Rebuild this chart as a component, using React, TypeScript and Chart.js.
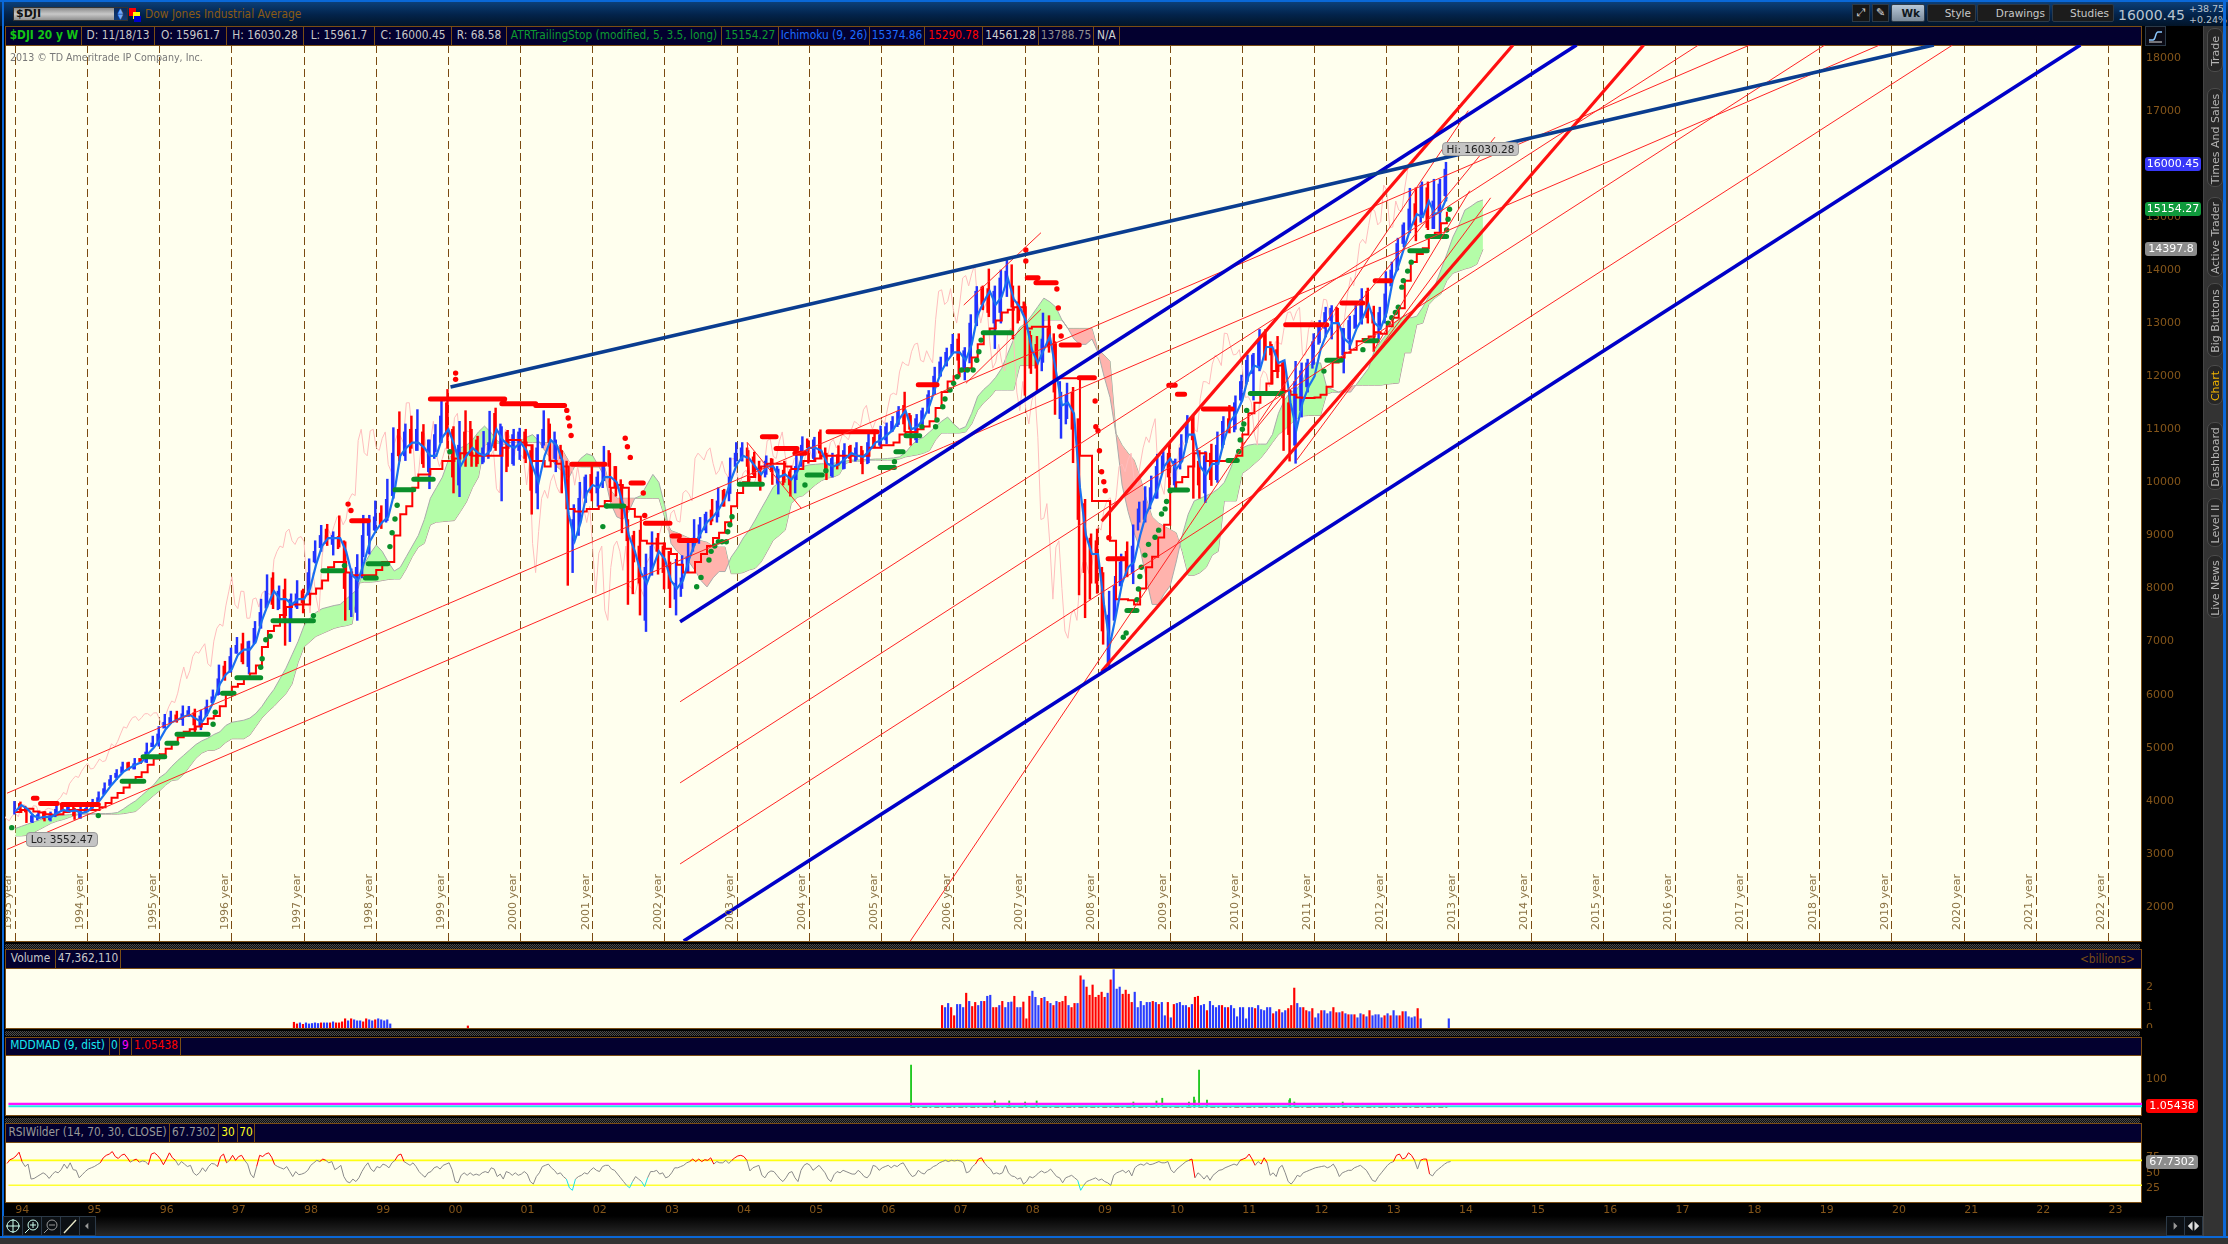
import React, { useEffect, useRef } from "react";
import { Chart, registerables } from "chart.js";
Chart.register(...registerables);

// ---------- price data, one entry per month from Jan 1994 to Nov 2013 ----------
const highs = [
3990,3980,3840,3750,3790,3800,3790,3930,3960,3940,3860,3890,
3950,4030,4170,4340,4480,4590,4730,4730,4800,4800,5090,5220,
5400,5630,5690,5690,5790,5780,5730,5710,5900,6090,6560,6630,
6880,7080,7160,7010,7380,7800,8260,8300,8050,8180,7900,8150,
7990,8560,8900,9190,9210,9070,9370,8880,8370,8640,9380,9380,
9650,9560,10060,11030,11330,11100,11250,11370,11090,10800,11090,11530,
11750,11050,11150,11350,11000,10870,10960,11340,11400,11050,10980,11000,
11020,11000,10700,10900,11350,11100,10800,10600,10050,9580,10000,10140,
10300,10200,10680,10550,10300,9950,9300,9080,9100,8650,9070,9040,
8860,8500,8550,8620,8900,9300,9340,9440,9680,9900,9870,10460,
10750,10750,10600,10570,10300,10500,10440,10250,10400,10240,10580,10860,
10790,10850,10990,10550,10550,10690,10730,10700,10750,10600,10930,10990,
11060,11120,11240,11430,11700,11260,11280,11400,11730,12170,12360,12530,
12790,12800,12540,13160,13690,13700,14020,13700,14000,14198,13700,13700,
13360,12770,12750,13190,13140,12650,11700,11870,11790,10920,9680,9030,
9120,8300,7950,8230,8650,8880,9200,9630,9920,10120,10530,10580,
10730,10440,10900,11260,11250,10600,10580,10720,10950,11240,11450,11630,
12020,12400,12430,12880,12880,12600,12750,12300,11700,12280,12250,12320,
12800,13050,13300,13330,13280,12900,13130,13330,13650,13660,13320,13300,
13970,14150,14600,14890,15540,15550,15660,15660,15710,15710,16030];
const lows = [
3750,3810,3590,3590,3670,3620,3620,3750,3830,3810,3650,3670,
3800,3860,4000,4150,4290,4400,4540,4580,4600,4700,4720,5020,
5030,5380,5460,5480,5420,5590,5300,5340,5600,5870,6000,6270,
6430,6780,6580,6390,6970,7250,7650,7620,7620,6930,7360,7620,
7540,7900,8480,8700,8810,8630,8780,7400,7470,7400,8600,8650,
9090,9130,9280,9700,10400,10410,10640,10600,10280,9880,10580,10750,
10640,9800,9730,10300,10300,10350,10380,10600,10600,9650,10300,10320,
10430,10370,9400,9500,10700,10400,10200,9800,8060,8900,9250,9620,
9650,9550,10030,9900,9740,9050,7700,8500,7500,7190,8250,8270,
7990,7640,7500,8000,8300,8810,8950,9050,9270,9350,9550,9790,
10400,10400,10000,10120,9850,10150,9960,9780,10000,9740,10050,10500,
10360,10420,10450,10050,10100,10320,10260,10370,10430,10160,10370,10650,
10660,10730,10960,11090,10950,10700,10750,11090,11300,11670,12000,12190,
12450,12040,11930,12340,12950,13250,13120,12520,13000,13500,12700,13050,
11640,12050,11730,12260,12450,11280,10830,11200,10370,7880,7450,8100,
7910,6950,6470,7500,8050,8220,8090,9250,9250,9640,9700,10270,
9900,9830,10400,10860,9700,9700,9620,9940,10000,10710,10930,11000,
11530,11900,11550,12100,12300,11850,11970,10600,10400,10360,11230,11700,
12220,12630,12740,12700,12320,12060,12500,12920,12980,13000,12470,12880,
13110,13780,14000,14440,14700,14550,15030,14760,14780,14720,15300];
const closes = [
3978,3832,3636,3682,3758,3625,3765,3913,3843,3908,3739,3834,
3844,4011,4158,4321,4465,4556,4709,4611,4789,4756,5075,5117,
5395,5486,5588,5569,5643,5655,5529,5616,5882,6029,6522,6448,
6813,6878,6583,7009,7331,7673,8222,7622,7945,7442,7823,7908,
7907,8546,8800,9063,8900,8952,8883,7539,7843,8592,9117,9181,
9359,9307,9786,10789,10560,10971,10655,10829,10337,10730,10878,11497,
10941,10128,10922,10734,10522,10448,10522,11215,10651,10971,10414,10787,
10887,10495,9879,10735,10912,10502,10523,9950,8848,9075,9852,10022,
9920,10106,10404,9946,9925,9243,8737,8664,7592,8397,8896,8342,
8054,7891,7992,8480,8850,8985,9234,9416,9275,9801,9782,10454,
10488,10584,10358,10226,10188,10435,10140,10174,10080,10027,10428,10783,
10490,10766,10504,10193,10467,10275,10641,10482,10569,10440,10806,10718,
10865,10993,11109,11367,11168,11150,11186,11381,11679,12080,12222,12463,
12622,12269,12354,13063,13628,13409,13212,13358,13896,13930,13372,13265,
12650,12266,12263,12820,12638,11350,11378,11544,10851,9325,8829,8776,
8001,7063,7609,8168,8500,8447,9172,9496,9712,9713,10345,10428,
10067,10325,10857,11009,10137,9774,10466,10015,10788,11118,11006,11578,
11892,12226,12320,12811,12570,12414,12143,11614,10913,11955,12046,12218,
12633,12952,13212,13214,12393,12880,13009,13091,13437,13096,13026,13104,
13861,14054,14579,14840,15116,14910,15500,14810,15130,15546,16000];
// a second bar between each pair of months
const midHighs = [
3950,3900,3720,3740,3790,3720,3840,3930,3900,3900,3810,3860,
3920,4060,4230,4400,4520,4640,4720,4700,4800,4920,5090,5260,
5480,5570,5620,5640,5700,5660,5600,5770,5960,6300,6540,6720,
6930,6960,7000,7250,7550,7950,8200,7950,7980,7800,7900,7960,
8300,8700,9000,9120,9000,8980,8900,8300,8400,9000,9250,9350,
9420,9680,10550,11000,10950,11000,11000,10950,10800,10900,11250,11500,
11000,10700,10950,11150,10800,10650,10750,11300,11100,10950,10900,10950,
10950,10600,10650,11000,11200,10950,10700,10400,9300,9700,10100,10150,
10100,10350,10600,10300,10050,9550,9000,8800,8400,8800,8950,8800,
8700,8100,8200,8600,8950,9200,9400,9480,9650,9850,10100,10550,
10650,10650,10480,10400,10400,10450,10300,10230,10200,10300,10700,10820,
10800,10950,10650,10450,10520,10600,10680,10650,10680,10750,10850,10900,
11050,11150,11330,11450,11300,11200,11350,11650,12000,12270,12450,12600,
12700,12480,13000,13600,13680,13650,13600,13850,13980,14100,13400,13400,
12850,12600,12700,12900,12800,11900,11650,11700,11200,9600,8950,8900,
8400,7500,8050,8500,8700,8800,9500,9650,9900,10300,10500,10550,
10400,10650,11050,11200,10400,10500,10550,10700,11150,11200,11500,11900,
12300,12400,12700,12800,12650,12500,12250,11500,11900,12100,12250,12650,
12980,13200,13280,13300,12900,13050,13150,13450,13600,13200,13200,13550,
14000,14500,14850,15150,15250,15600,15550,15300,15620,15900];
const midLows = [
3830,3790,3600,3640,3660,3640,3700,3820,3800,3720,3680,3780,
3820,3980,4120,4290,4440,4530,4600,4600,4740,4730,5020,5090,
5370,5460,5510,5530,5600,5430,5400,5590,5850,5990,6300,6420,
6780,6620,6530,6950,7290,7630,7700,7600,7440,7000,7650,7730,
7880,8500,8770,8850,8830,8750,8000,7600,7550,8200,9000,9100,
9200,9250,9750,10500,10500,10550,10600,10350,10200,10450,10750,10950,
10100,9950,10450,10500,10300,10350,10450,10650,10500,10200,10350,10600,
10450,9850,9800,10650,10750,10450,10450,9500,8300,9000,9700,9800,
9800,9900,10300,9900,9500,8900,7900,8100,7400,8300,8700,8300,
8000,7800,7850,8300,8700,8850,9100,9200,9250,9550,9650,10300,
10420,10300,10150,10020,10100,10200,9980,9950,9950,9800,10300,10650,
10450,10550,10200,10120,10250,10250,10450,10400,10350,10350,10650,10700,
10800,10950,11050,11100,11000,10800,11100,11350,11650,12000,12200,12400,
12300,12100,12250,13000,13350,13200,13000,13200,13700,13300,13000,13200,
12150,12150,12100,12550,11700,11200,11100,11000,9300,8300,7800,8100,
7200,6600,7400,8050,8280,8300,9100,9300,9500,9700,10200,10100,
9950,10250,10750,10800,9950,9800,10050,10050,10650,10950,10950,11550,
11850,12050,12200,12400,12400,12100,11600,10900,10700,11350,11800,12150,
12600,12900,13050,13000,12400,12700,12900,13050,13100,13000,12700,13000,
13700,13980,14500,14750,14850,14900,14800,14780,15100,15400];
const tenkan = [
3800,3920,3850,3720,3680,3700,3700,3770,3830,3800,3820,3770,
3800,3900,4000,4150,4300,4430,4550,4620,4680,4730,4880,5000,
5150,5350,5480,5530,5590,5620,5550,5480,5650,5880,6200,6380,
6480,6750,6850,6850,7000,7400,7700,7950,7800,7800,7700,7800,
7800,8000,8450,8800,8950,8950,8950,8700,8250,8150,8500,8900,
9100,9250,9350,9800,10500,10650,10750,10750,10650,10500,10500,10850,
11000,10700,10300,10500,10650,10550,10500,10600,11000,10800,10700,10650,
10750,10600,10300,10000,10500,10800,10700,10400,9400,8900,9250,9800,
9950,9900,10100,10100,10000,9600,9000,8700,8300,8100,8400,8700,
8550,8150,8000,8150,8550,8850,9050,9250,9350,9500,9700,10050,
10350,10500,10450,10300,10150,10300,10300,10100,10150,10050,10200,10550,
10650,10650,10600,10350,10300,10350,10450,10550,10500,10480,10600,10750,
10800,10900,11000,11200,11350,11000,11050,11200,11450,11800,12100,12300,
12450,12450,12300,12600,13150,13400,13600,13350,13500,13850,13450,13300,
13050,12500,12250,12500,12750,12100,11450,11500,11300,9900,9000,8650,
8650,7700,6950,7500,8100,8400,8500,9000,9400,9650,9900,10300,
10450,10250,10400,10900,10900,10300,10150,10350,10350,10800,11150,11300,
11550,12000,12200,12150,12550,12550,12250,12300,11500,11000,11500,11800,
12000,12500,12800,13000,13000,12700,12600,12900,13100,13350,13000,12900,
13200,13800,14100,14450,14800,15050,15000,15300,15050,15100,15375];
const kijun = [
3790,3830,3850,3800,3780,3750,3740,3750,3790,3830,3830,3830,
3830,3830,3880,3960,4060,4150,4250,4350,4450,4540,4680,4800,
4880,4980,5100,5200,5300,5350,5400,5450,5550,5600,5780,6000,
6150,6200,6300,6400,6550,6900,7200,7300,7500,7650,7700,7700,
7700,7900,8000,8150,8400,8500,8500,8300,8250,8250,8250,8250,
8350,8500,8500,9000,9400,9550,9900,10150,10150,10250,10250,10400,
10400,10450,10550,10550,10500,10500,10500,10500,10500,10650,10800,10800,
10750,10700,10400,10400,10300,10400,10350,10300,9500,9450,9450,9500,
9500,9550,9650,9900,9950,9900,9500,9350,8900,8850,8850,8850,
8750,8650,8450,8300,8300,8500,8650,8800,8950,9050,9250,9550,
9800,10000,10100,10250,10300,10350,10350,10350,10300,10250,10250,10400,
10400,10450,10500,10500,10500,10500,10500,10500,10500,10500,10650,10650,
10700,10700,10750,10900,10950,10950,11000,11050,11150,11400,11700,11900,
12000,12100,12150,12350,12600,12800,12900,13050,13200,13250,13300,13300,
12900,12930,12930,12930,12600,11960,11960,11960,11960,10500,10500,9650,
9650,9650,8900,7800,7800,7780,7700,8000,8400,8600,8960,9200,
9860,10000,10100,10300,10550,10550,10400,10400,10400,10400,10400,10500,
10900,11300,11500,11700,11860,12100,12200,11720,11650,11600,11590,11590,
11600,11650,11800,12260,12350,12440,12500,12660,12700,12750,12830,12800,
12940,13100,13280,13800,14150,14300,14410,14650,14700,14880,15100];
const spanA = [
3480,3520,3560,3600,3640,3680,3700,3720,3730,3740,3750,3755,
3760,3760,3760,3760,3765,3780,3850,3930,4000,4100,4200,4300,
4440,4520,4650,4760,4860,4960,5060,5130,5180,5250,5300,5420,
5480,5500,5520,5560,5650,5780,5950,6100,6300,6500,6750,7000,
7300,7450,7550,7620,7650,7680,7700,7800,7900,8000,8450,8660,
8820,8700,8500,8330,8400,8600,8800,9000,9300,9700,9900,10100,
10420,10600,10650,10700,10800,10950,11060,10950,10800,10700,10750,10750,
10780,10850,10900,10780,10600,10450,10300,10200,10080,10300,10450,10540,
10500,10300,10100,9600,9350,9300,9450,9700,9750,9950,10150,10000,
9550,8850,8700,8600,8500,8340,8150,8030,8200,8320,8320,8590,
8750,8950,9100,9290,9500,9700,9910,10000,10050,10100,10200,10300,
10330,10340,10350,10350,10360,10380,10400,10420,10420,10430,10430,10440,
10440,10450,10460,10480,10560,10700,10800,10850,10950,11050,11150,11230,
11100,11000,11050,11300,11620,11750,11850,11980,12150,12430,12700,12920,
13000,13150,13310,13470,13400,13300,13060,12900,12700,12600,12600,12700,
12450,12000,11600,10900,9950,9450,9050,8750,8200,7700,7700,7900,
8050,8500,9000,9400,9650,9700,9750,9800,9880,10000,10250,10550,
10650,10700,10720,10720,10720,10900,11300,11550,11700,11750,11900,12200,
12250,12250,11800,11750,11700,11700,11700,11850,12000,12150,12500,12650,
12800,12950,13080,13150,13100,13130,13300,13500,13700,14000,14300,14620,
14850,15130,15200,15280,15320];
const spanB = [
3340,3340,3350,3400,3460,3520,3580,3620,3650,3690,3730,3750,
3750,3750,3750,3750,3750,3750,3760,3780,3800,3900,4000,4100,
4190,4300,4380,4400,4500,4650,4800,4900,4950,4950,5000,5100,
5170,5170,5170,5240,5400,5560,5680,5780,5900,6020,6200,6600,
6900,7000,7100,7150,7200,7250,7280,7300,7330,8100,8120,8120,
8130,8150,8170,8180,8180,8370,8600,8780,8850,9200,9250,9260,
9270,9280,9450,9630,9900,10100,10700,10740,10740,10740,10750,10750,
10750,10750,10750,10750,10750,10750,10700,10600,10400,10300,10290,10290,
10290,10290,10280,9850,9700,9700,9700,9700,9700,9700,9700,9700,
9330,9090,9050,9000,8950,8917,8900,8870,8800,8780,8780,8280,
8280,8300,8350,8380,8500,8700,8910,9000,9100,9600,9720,9750,
9850,9950,10030,10080,10100,10150,10350,10400,10400,10400,10420,10420,
10420,10420,10420,10440,10480,10500,10520,10550,10600,10800,10930,10930,
10930,10930,10950,11100,11360,11500,11600,11740,11740,11740,11740,12200,
12200,12200,12200,13060,13060,13060,13060,12900,12900,12900,12900,12900,
12500,12400,12280,10920,10700,10550,10420,10100,9700,9350,9240,9170,
9110,9050,8700,8250,8250,8300,8400,8630,8700,9650,9650,9650,
10170,10250,10350,10450,10590,10750,10900,10990,11100,11200,11250,11260,
11260,11260,11660,11700,11700,11750,11800,11830,11830,11830,11830,11830,
11850,11860,11870,12440,12440,12970,13000,13350,13470,13550,13800,13940,
13980,14020,14050,14110,14390];

// ATR trailing stop: [from year, to year, level] and isolated [year, level]
const redStopRuns = [
[1994.25,1994.3,4047],[1994.35,1994.58,3950],[1994.65,1995.15,3930],[1998.66,1998.89,9277],
[1999.75,2000.78,11570],[2000.74,2001.21,11480],[2001.21,2001.61,11450],[2001.71,2002.17,10340],
[2002.53,2002.7,9990],[2002.73,2003.07,9231],[2003.1,2003.2,8990],[2003.2,2003.43,8907],
[2004.35,2004.54,10860],[2004.54,2004.83,10640],[2004.8,2004.94,10546],[2005.26,2005.94,10954],
[2006.51,2006.77,11840],[2008.02,2008.17,13856],[2008.14,2008.42,13760],[2008.49,2008.74,12587],
[2008.74,2008.95,11970],[2009.14,2009.36,8561],[2009.98,2010.07,11827],[2010.1,2010.2,11658],
[2010.46,2010.86,11381],[2011.6,2012.17,12970],[2012.38,2012.67,13381],[2012.84,2013.05,13798]];
const redStopDots = [
[1998.61,9590],[1998.65,9470],[2000.1,12058],[2000.1,11940],[2001.64,11356],[2001.66,11213],[2001.68,11064],[2001.7,10882],
[2002.45,10830],[2002.48,10670],[2002.52,10470],[2002.7,9800],[2002.72,9375],[2008,14377],[2008,14170],
[2008.43,13642],[2008.45,13284],[2008.47,12932],[2008.49,12757],[2008.96,11532],[2008.97,11048],[2009,10973],
[2009.02,10596],[2009.05,10200],[2009.08,10012],[2009.1,9843],[2009.15,8957]];
const greenStopRuns = [
[1995.48,1995.78,4370],[1995.77,1996.07,4830],[1996.1,1996.24,5086],[1996.24,1996.67,5255],
[1996.87,1997.03,6028],[1997.07,1997.4,6321],[1997.57,1998.13,7393],[1998.26,1998.53,8335],
[1998.85,1999.0,8200],[1998.89,1999.16,8465],[1999.26,1999.52,9862],[1999.52,1999.79,10057],
[2002.2,2002.43,9556],[2004.03,2004.35,9962],[2004.97,2005.18,10138],[2005.98,2006.18,10280],
[2006.2,2006.3,10578],[2006.34,2006.53,10879],[2007.41,2007.8,12820],[2009.4,2009.54,7587],
[2010,2010.24,9855],[2010.8,2010.93,10414],[2011.11,2011.56,11672],[2012.17,2012.37,12298],
[2012.7,2012.87,12668],[2013.32,2013.56,14364],[2013.56,2013.83,14633]];
const greenStopDots = [
[1993.95,3495],[1995.15,3722],[1996.74,5444],[1996.77,5670],[1997.4,6516],[1997.42,6678],[1997.47,7036],[1997.53,7100],
[1998.13,7490],[1998.56,8432],[1999.19,8790],[1999.22,9050],[1999.26,9310],[1999.29,9570],[2000.02,10576],
[2002.14,9167],[2002.19,9556],[2003.44,8034],[2003.5,8210],[2003.61,8536],[2003.64,8700],[2003.69,8800],[2003.74,8882],
[2003.79,8882],[2003.85,8882],[2003.87,9070],[2003.9,9200],[2003.93,9353],[2004.94,9950],[2005.23,10219],
[2006.18,10390],[2006.56,11050],[2006.75,11048],[2006.77,11174],[2006.85,11425],[2006.88,11570],[2006.95,11739],[2007,11865],
[2007.05,11990],[2007.11,12116],[2007.19,12116],[2007.27,12116],[2007.32,12300],[2007.35,12460],[2007.38,12680],
[2009.35,7083],[2009.39,7163],[2009.54,7790],[2009.56,7991],[2009.58,8227],[2009.6,8400],[2009.65,8630],[2009.7,8832],
[2009.79,8967],[2009.84,9100],[2009.88,9404],[2009.93,9500],[2009.95,9640],[2010,9841],[2010.95,10580],[2010.97,10800],
[2011,11000],[2011.02,11100],[2011.06,11356],[2012.13,12096],[2012.67,12500],[2013.02,13000],[2013.07,13100],[2013.12,13200],
[2013.16,13300],[2013.21,13677],[2013.23,13800],[2013.29,13980],[2013.34,14148],[2013.83,14754],[2013.85,14956],[2013.87,15144]];

// hand-drawn trend lines: [from year, from level, to year, to level]
const navyLines = [[2000.03,11796,2020.58,18239]];
const blueLines = [[2003.21,7373,2015.63,18239],[2003.26,1360,2022.61,18239]];
const redThickLines = [[2009.05,9270,2014.75,18239],[2009.05,6443,2016.56,18239]];
const redThinLines = [
[1993.885,4144,2018.03,18239],[1993.885,3085,2019.83,18239],
[2003.21,5867,2017.32,18239],[2003.21,4339,2019.07,18239],[2003.21,2812,2020.84,18239],
[2004.14,10753,2004.89,9510],[2004.14,10753,2004.18,10043],
[2007.14,13340,2008.21,14703],[2007.17,11865,2008.21,13259],
[2006.4,1360,2014.13,17003],[2010.97,10649,2014.5,16503],[2011.75,10414,2014.44,15360],[2012.81,12466,2014.15,15494]];

// volume, billions, one bar every two weeks; r = down, b = up
const volumeEarly = [0.28,0.2,0.25,0.18,0.25,0.2,0.22,0.25,0.22,0.25,0.25,0.25,0.25,0.3,0.25,0.25,0.3,0.45,0.35,0.45,0.4,0.35,0.35,0.3,0.45,0.4,0.35,0.4,0.45,0.4,0.35,0.4,0.2];
const volumeEarlySide = "rrbrbbbbbrbbrbrrrrbrbbbrrbbrbbbbb";
const volumeLate = [
1.1,1.0,1.2,1.0,0.6,1.15,1.15,1.0,1.7,1.3,1.05,
1.25,1.1,1.3,1.3,1.55,1.6,1.0,1.0,1.1,1.3,1.0,1.25,
1.27,1.55,1.0,1.0,1.27,0.45,1.55,1.8,1.5,1.1,1.45,1.5,1.3,
1.2,1.1,1.3,1.25,1.3,1.55,1.1,1.0,1.2,1.2,2.55,
2.35,2.0,1.6,2.1,1.5,1.6,1.75,1.5,1.7,2.35,2.85,
1.9,2.0,1.65,1.85,1.65,1.25,1.75,1.0,1.3,1.1,1.25,1.25,
1.3,1.25,1.15,1.25,0.6,1.25,0.5,1.15,1.2,1.25,1.1,1.1,
1.0,1.15,1.5,1.55,1.1,1.15,0.85,1.3,1.1,1.0,1.1,1.1,
1.0,1.0,1.1,0.95,0.55,1.0,1.0,0.45,1.0,1.0,0.95,1.1,
0.9,0.85,1.0,1.0,0.7,0.8,0.9,0.75,0.85,0.95,1.1,1.95,
1.2,1.0,1.0,0.85,0.8,0.95,0.5,0.7,0.85,0.85,0.7,0.8,
1.0,0.75,0.75,0.8,0.7,0.65,0.65,0.65,0.5,0.7,0.65,0.55,
0.85,0.6,0.65,0.65,0.5,0.6,0.7,0.6,0.85,0.6,0.6,0.8,
0.8,0.55,0.5,0.55,0.95,0.45];
const volumeLateSide =
"rbbrrbbbrbr"+"rbbrbbrrbrbb"+"brbbrrrbbbrbr"+"brbrrrbrrbr"+"brrrrrrrbrb"+"bbrrrrbbbbbb"+
"rbrbbrbrbbbb"+"rbrrbbrbbbbr"+"brbbbbbbbbrb"+"bbbbrbrbbrrr"+"bbrrbrbbrbbb"+"rrbrbrbrbbrb"+"rbbbbrbrbbrr"+"bbbbrb";
const volumeLast = [[2013.86,0.45],[2000.27,0.1]];

// MDDMAD spikes [year, value]
const mddSpikes = [[2006.41,153],[2007.57,20],[2007.77,20],[2007.99,16],[2008.15,20],[2009.49,16],[2009.81,20],[2009.89,30],[2010.26,16],[2010.33,34],[2010.34,23],[2010.4,134],[2010.51,23],[2011.65,23],[2011.66,29],[2011.72,16],[2012.39,16]];

// RSI, two readings a month
const rsiValues = [
65,71,73,77,83,68,60,64,40,41,44,47, 50,47,41,47,52,50,55,64,57,66,55,54,
42,47,52,56,58,60,63,66,74,78,80,84, 76,73,78,80,74,67,70,72,67,69,68,63,
80,82,78,72,63,72,82,74,70,62,68,64, 60,62,50,46,50,58,52,60,65,64,60,76,
80,66,70,78,70,76,78,70,64,48,42,60, 78,76,80,82,75,63,60,58,56,60,52,44,
52,47,48,50,54,62,66,70,68,72,70,66, 68,55,58,62,44,36,34,40,36,42,52,60,
66,56,52,60,58,64,62,58,66,70,78,80, 68,65,62,66,60,52,47,43,50,52,58,60,
56,62,64,66,55,36,34,46,50,46,50,46, 48,46,50,52,50,58,56,44,48,40,52,50,
46,50,46,48,52,48,36,32,44,50,60,62, 64,58,54,48,50,44,40,26,22,40,44,46,
50,48,54,58,54,52,60,62,62,56,54,48, 42,36,30,26,36,44,40,36,28,42,52,52,
54,48,50,42,44,50,58,58,60,62,66,68, 72,68,72,68,71,70,74,64,68,66,66,70,
65,70,74,77,78,76,70,53,58,60,62,46, 42,50,53,52,46,40,36,42,50,52,42,36,
54,62,65,62,54,58,62,56,50,40,36,47, 52,50,54,52,50,48,48,54,50,44,42,48,
62,60,54,58,60,62,58,62,60,64,66,58, 50,44,46,54,50,48,54,56,60,62,66,68,
70,68,70,69,70,69,66,50,52,60,64,72, 74,66,60,56,48,50,48,50,62,50,45,44,
40,42,32,36,44,42,45,50,53,50,52,56, 50,44,42,34,42,44,46,42,38,22,30,36,
38,40,42,38,40,36,34,30,46,50,52,54, 50,54,45,58,62,64,62,66,63,64,66,68,
66,66,68,55,50,56,60,64,68,70,72,42, 50,46,40,46,38,46,50,54,55,58,60,62,
64,62,70,72,74,80,72,62,68,64,74,66, 46,50,44,58,62,50,36,32,38,46,44,50,
52,54,56,58,59,60,61,58,60,64,56,44, 50,52,54,54,58,60,62,58,54,46,38,36,
44,50,56,62,66,68,78,80,72,74,82,78, 70,56,70,72,72,48,45,52,56,60,64,67,68];

const gridYears = [1994,1995,1996,1997,1998,1999,2000,2001,2002,2003,2004,2005,2006,2007,2008,2009,2010,2011,2012,2013,2014,2015,2016,2017,2018,2019,2020,2021,2022,2023];
const priceTicks = [2000,3000,4000,5000,6000,7000,8000,9000,10000,11000,12000,13000,14000,15000,16000,17000,18000];
const volumeTicks = [0,1,2];
const mddTicks = [100];
const rsiTicks = [25,50,75];

// ---------- layout and theme ----------
const X_MIN = 1993.857, X_MAX = 2023.464;
const BROWN = "#7a4d14";
const AXIS_BROWN = "#85561a";
const IVORY = "#FFFFEE";
const NAVY_STRIP = "#03002F";
const UI_FONT = '"DejaVu Sans Condensed","DejaVu Sans",sans-serif';
const yearOfMonth = (i: number) => 1994 + i / 12;
const series = (vals: number[], shift = 0) => vals.map((y, i) => ({ x: yearOfMonth(i + shift), y }));
const runsToPoints = (runs: number[][]) => runs.flatMap(([a, b, v]) => [{ x: a, y: v }, { x: b, y: v }, { x: b, y: null as any }]);
const noPadding = (s: any) => { s.paddingTop = 0; s.paddingBottom = 0; s.paddingLeft = 0; s.paddingRight = 0; };

const baseX = (extra: any = {}) => ({
  type: "linear", min: X_MIN, max: X_MAX, offset: false,
  grid: { display: false, offset: false, drawTicks: false },
  border: { display: false },
  ticks: { display: false },
  afterFit: (s: any) => { s.height = 0; noPadding(s); },
  ...extra,
});
const baseY = (min: number, max: number, ticks: number[]) => ({
  type: "linear", position: "right", min, max,
  grid: { display: false, drawTicks: false },
  border: { display: false },
  afterBuildTicks: (s: any) => { s.ticks = ticks.map((value) => ({ value })); },
  afterFit: (s: any) => { s.width = 60; noPadding(s); },
  ticks: { color: AXIS_BROWN, padding: 4, font: { family: "DejaVu Sans", size: 11 }, autoSkip: false, callback: (v: any) => String(v) },
});
const baseOptions = (scales: any) => ({
  responsive: false, animation: false as const, devicePixelRatio: 1,
  layout: { padding: 0, autoPadding: false },
  events: [] as any[],
  plugins: { legend: { display: false }, tooltip: { enabled: false } },
  elements: { point: { radius: 0 }, line: { tension: 0 } },
  scales,
});
const lineSet = (t: number[], color: string, width: number, order: number) => ({
  type: "line", data: [{ x: t[0], y: t[1] }, { x: t[2], y: t[3] }],
  borderColor: color, borderWidth: width, pointRadius: 0, order, fill: false,
});

const yearLabelPlugin = {
  id: "yearLabels",
  afterDraw(chart: any) {
    const { ctx, scales, chartArea } = chart;
    ctx.save();
    ctx.fillStyle = "#8b7344";
    ctx.font = "11px 'DejaVu Sans'";
    ctx.textBaseline = "middle";
    ctx.textAlign = "left";
    for (const y of gridYears) {
      const px = scales.x.getPixelForValue(y) - 7;
      ctx.save();
      ctx.translate(px, chartArea.bottom - 11);
      ctx.rotate(-Math.PI / 2);
      ctx.fillText(`${y - 1} year`, 0, 0);
      ctx.restore();
    }
    ctx.restore();
  },
};

// ---------- small DOM pieces ----------
const abs = (l: number, t: number, w: number, h: number, extra: any = {}) => ({ position: "absolute" as const, left: l, top: t, width: w, height: h, boxSizing: "border-box" as const, ...extra });

const Strip = ({ top, height, cells, right }: any) => (
  <div style={abs(5, top, 2137, height, { background: NAVY_STRIP, border: `1px solid ${BROWN}`, font: `11.8px ${UI_FONT}` })}>
    {cells.map((c: any, i: number) => (
      <div key={i} style={abs(c[0] - 5, -1, c[1], height, { color: c[3], fontWeight: c[4] ? 700 : 400, lineHeight: `${height - 2}px`, whiteSpace: "nowrap", overflow: "hidden", textAlign: c[5] || "center", borderRight: `1px solid ${BROWN}` })}>{c[2]}</div>
    ))}
    {right && <div style={{ position: "absolute", right: 6, top: 0, lineHeight: `${height - 2}px`, color: BROWN }}>{right}</div>}
  </div>
);
const Separator = ({ top }: any) => (
  <div style={abs(5, top, 2135, 5, { background: "repeating-conic-gradient(#4a4a4a 0 25%, #0c0c0c 0 50%) 0 0/2px 2px" })} />
);
const PlotBox = ({ top, height }: any) => (
  <div style={abs(5, top, 2137, height, { background: IVORY, border: `1px solid ${BROWN}` })} />
);
const Tag = ({ left, top, width, bg, color = "#fff", children }: any) => (
  <div style={abs(left, top, width, 14, { background: bg, color, borderRadius: 3, font: "11px 'DejaVu Sans'", lineHeight: "14px", textAlign: "center", whiteSpace: "nowrap" })}>{children}</div>
);
const TopButton = ({ left, width, label, bg = "#1c1c1c", color = "#c8c8c8", bold = false }: any) => (
  <div style={abs(left, 4, width, 18, { background: bg, border: "1px solid #2d3a48", color, font: `${bold ? 700 : 400} 10.5px 'DejaVu Sans'`, lineHeight: "16px", textAlign: "right", paddingRight: 4, whiteSpace: "nowrap", borderRadius: 2 })}>{label}</div>
);
const SideTab = ({ top, height, label, color = "#b4b4b4" }: any) => (
  <div style={abs(2207, top, 16, height, { background: "#262626", border: "1px solid #4c4c4c", borderRadius: 7 })}>
    <div style={{ position: "absolute", left: 7, top: height / 2, transform: "translate(-50%,-50%) rotate(-90deg)", whiteSpace: "nowrap", color, font: "11px 'DejaVu Sans'" }}>{label}</div>
  </div>
);
const IconBox = ({ left, width = 18, glyph }: any) => (
  <svg style={abs(left, 1217, width, 18, { background: "#0c1014", outline: "1px solid #2c3a48" })} viewBox="0 0 18 18">{glyph}</svg>
);

const mainCells = [
  [6, 75, "$DJI 20 y W", "#14c414", true], [81, 73, "D: 11/18/13", "#c8c8c8"], [154, 72, "O: 15961.7", "#c8c8c8"],
  [226, 77, "H: 16030.28", "#c8c8c8"], [303, 71, "L: 15961.7", "#c8c8c8"], [374, 77, "C: 16000.45", "#c8c8c8"],
  [451, 55, "R: 68.58", "#c8c8c8"], [506, 215, "ATRTrailingStop (modified, 5, 3.5, long)", "#0e9a30"], [721, 57, "15154.27", "#0e9a30"],
  [778, 91, "Ichimoku (9, 26)", "#1c6cff"], [869, 55, "15374.86", "#1c6cff"], [924, 58, "15290.78", "#ff0000"],
  [982, 56, "14561.28", "#d0d0d0"], [1038, 55, "13788.75", "#909090"], [1093, 26, "N/A", "#d0d0d0"],
];
const volumeCells = [[5, 50, "Volume", "#c8c8c8"], [55, 65, "47,362,110", "#c8c8c8"]];
const mddCells = [[5, 104, "MDDMAD (9, dist)", "#18e8f0"], [109, 10, "0", "#18e8f0"], [119, 12, "9", "#ff00ff"], [131, 49, "1.05438", "#ff0000"]];
const rsiCells = [[5, 164, "RSIWilder (14, 70, 30, CLOSE)", "#999999"], [169, 49, "67.7302", "#999999"], [218, 19, "30", "#ffff20"], [237, 17, "70", "#ffff20"]];

export default function App() {
  const mainRef = useRef<HTMLCanvasElement>(null);
  const volRef = useRef<HTMLCanvasElement>(null);
  const mddRef = useRef<HTMLCanvasElement>(null);
  const rsiRef = useRef<HTMLCanvasElement>(null);

  useEffect(() => {
    const charts: Chart[] = [];
    const barColor = (i: number) => (i === 0 || closes[i] >= closes[i - 1] ? "#2233ff" : "#ff0000");
    const midColor = (i: number) => (closes[i + 1] >= closes[i] ? "#2233ff" : "#ff0000");

    const mainDatasets: any[] = [
      { type: "line", data: series(spanB, 0), borderColor: "#999", borderWidth: 1, pointRadius: 0, order: 90, fill: false },
      { type: "line", data: series(spanA, 0), borderColor: "#aaa", borderWidth: 1, pointRadius: 0, order: 89, fill: { target: 0, above: "#B4FDA8", below: "#FFB3AD" } },
      {
        type: "line",
        data: closes.flatMap((c, i) => [
          { x: yearOfMonth(i - 6), y: c },
          ...(i < midHighs.length ? [{ x: yearOfMonth(i - 5.5), y: i % 2 ? midHighs[i] : midLows[i] }] : []),
        ]),
        borderColor: "#FFBDBD", borderWidth: 1, pointRadius: 0, order: 80, fill: false,
      },
      { type: "bar", data: closes.map((_, i) => ({ x: yearOfMonth(i), y: [lows[i], highs[i]] })), backgroundColor: closes.map((_, i) => barColor(i)), barThickness: 1.8, order: 70 },
      { type: "bar", data: midHighs.map((h, i) => ({ x: yearOfMonth(i + 0.5), y: [midLows[i], h] })), backgroundColor: midHighs.map((_, i) => midColor(i)), barThickness: 1.8, order: 70 },
      { type: "line", data: series(kijun), borderColor: "#ff0000", borderWidth: 2, stepped: true, pointRadius: 0, order: 60, fill: false },
      { type: "line", data: series(tenkan), borderColor: "#1a70f0", borderWidth: 2.2, pointRadius: 0, order: 59, fill: false },
      { type: "line", data: runsToPoints(redStopRuns), borderColor: "#ff0000", borderWidth: 5, borderCapStyle: "round", pointRadius: 0, order: 50, fill: false, spanGaps: false },
      { type: "line", data: redStopDots.map(([x, y]) => ({ x, y })), showLine: false, pointRadius: 2.7, pointBackgroundColor: "#ff0000", pointBorderWidth: 0, order: 50 },
      { type: "line", data: runsToPoints(greenStopRuns), borderColor: "#0a8f2a", borderWidth: 5, borderCapStyle: "round", pointRadius: 0, order: 50, fill: false, spanGaps: false },
      { type: "line", data: greenStopDots.map(([x, y]) => ({ x, y })), showLine: false, pointRadius: 2.7, pointBackgroundColor: "#0a8f2a", pointBorderWidth: 0, order: 50 },
      ...redThinLines.map((t) => lineSet(t, "#ff2424", 1, 20)),
      ...redThickLines.map((t) => lineSet(t, "#ff1010", 3.2, 12)),
      ...blueLines.map((t) => lineSet(t, "#0000c8", 3.6, 11)),
      ...navyLines.map((t) => lineSet(t, "#0a3d90", 3.6, 10)),
    ];
    charts.push(new Chart(mainRef.current!, {
      type: "line",
      data: { datasets: mainDatasets },
      options: baseOptions({
        x: baseX({
          grid: { display: true, offset: false, drawTicks: false, color: "#7a4a10", lineWidth: 1 },
          border: { display: false, dash: [8, 4] },
          afterBuildTicks: (s: any) => { s.ticks = gridYears.map((value) => ({ value })); },
        }),
        y: baseY(1360, 18239, priceTicks),
      }) as any,
      plugins: [yearLabelPlugin],
    } as any));

    const earlyX = (i: number) => 1997.86 + i * 0.0417;
    const lateX = (i: number) => 2006.84 + i * 0.0417;
    const volPts = [
      ...volumeEarly.map((y, i) => ({ x: earlyX(i), y, c: volumeEarlySide[i] })),
      ...volumeLate.map((y, i) => ({ x: lateX(i), y, c: volumeLateSide[i] })),
      { x: volumeLast[0][0], y: volumeLast[0][1], c: "b" },
      { x: volumeLast[1][0], y: volumeLast[1][1], c: "r" },
    ];
    charts.push(new Chart(volRef.current!, {
      type: "bar",
      data: { datasets: [{ data: volPts.map(({ x, y }) => ({ x, y })), backgroundColor: volPts.map((p) => (p.c === "r" ? "#ff0000" : "#2a3cff")), barThickness: 1.5 }] as any },
      options: baseOptions({ x: baseX(), y: baseY(0, 2.93, volumeTicks) }) as any,
    } as any));

    charts.push(new Chart(mddRef.current!, {
      type: "bar",
      data: {
        datasets: [
          { type: "bar", data: mddSpikes.map(([x, y]) => ({ x, y })), backgroundColor: "#20c820", barThickness: 1.2, order: 3 },
          { type: "line", data: [{ x: 1993.905, y: 0 }, { x: X_MAX, y: 0 }], borderColor: "#20e8e8", borderWidth: 2, pointRadius: 0, order: 2 },
          { type: "line", data: [{ x: 1993.905, y: 9 }, { x: X_MAX, y: 9 }], borderColor: "#ff10ff", borderWidth: 2.2, pointRadius: 0, order: 1 },
          { type: "line", data: [{ x: 2006.4, y: -3 }, { x: 2013.87, y: -3 }], borderColor: "#b03020", borderWidth: 1, borderDash: [5, 2, 2, 3], pointRadius: 0, order: 4 },
        ] as any,
      },
      options: baseOptions({ x: baseX(), y: baseY(-32, 190, mddTicks) }) as any,
    } as any));

    charts.push(new Chart(rsiRef.current!, {
      type: "line",
      data: {
        datasets: [
          { data: [{ x: 1993.905, y: 70 }, { x: X_MAX, y: 70 }], borderColor: "#ffff10", borderWidth: 1.8, pointRadius: 0, order: 3 },
          { data: [{ x: 1993.905, y: 30 }, { x: X_MAX, y: 30 }], borderColor: "#ffff30", borderWidth: 1.4, pointRadius: 0, order: 3 },
          {
            data: rsiValues.map((y, i) => ({ x: 1993.885 + i / 24, y })),
            borderColor: "#8a8a8a", borderWidth: 1, pointRadius: 0, order: 1,
            segment: {
              borderColor: (c: any) => (c.p0.parsed.y > 70 || c.p1.parsed.y > 70 ? "#ff0000" : c.p0.parsed.y < 30 || c.p1.parsed.y < 30 ? "#20e0e0" : "#8a8a8a"),
            },
          },
        ] as any,
      },
      options: baseOptions({
        x: baseX({
          afterBuildTicks: (s: any) => { s.ticks = gridYears.map((value) => ({ value })); },
          afterFit: (s: any) => { s.height = 16; noPadding(s); },
          ticks: {
            display: true, color: AXIS_BROWN, autoSkip: false, maxRotation: 0, padding: 2, labelOffset: 7,
            font: { family: "DejaVu Sans", size: 11 },
            callback: (v: any) => String(Number(v) % 100).padStart(2, "0"),
          },
        }),
        y: baseY(3.3, 99.3, rsiTicks),
      }) as any,
    } as any));

    return () => charts.forEach((c) => c.destroy());
  }, []);

  return (
    <div style={{ position: "relative", width: 2228, height: 1244, background: "#000", overflow: "hidden" }}>
      <style>{"html,body{margin:0;padding:0;background:#000}"}</style>

      {/* top bar */}
      <div style={abs(0, 0, 2228, 26, { background: "linear-gradient(#0a68d8 0 2px,#0c3f78 2px,#03244c 55%,#021428)" })} />
      <div style={abs(13, 7, 115, 14, { background: "linear-gradient(#8b8b8b,#c8c8c8 50%,#909090)", border: "1px solid #333", font: "700 11px 'DejaVu Sans'", color: "#111", lineHeight: "12px", paddingLeft: 2 })}>$DJI</div>
      <div style={abs(114, 8, 13, 12, { background: "linear-gradient(#0a2a58,#123c78)", color: "#6fa8ff", font: "7px 'DejaVu Sans'", textAlign: "center", lineHeight: "6px" })}>▲<br />▼</div>
      <div style={abs(129, 8, 7, 8, { background: "#f00" })} />
      <div style={abs(133, 12, 7, 7, { background: "#ff0" })} />
      <div style={abs(134, 16, 7, 6, { background: "#00c" })} />
      <div style={abs(145, 7, 180, 14, { color: "#8a5a14", font: `11.9px ${UI_FONT}`, lineHeight: "14px", whiteSpace: "nowrap" })}>Dow Jones Industrial Average</div>

      <div style={abs(1852, 4, 18, 18, { background: "#161616", border: "1px solid #2d3a48", color: "#ccc", font: "11px 'DejaVu Sans'", textAlign: "center", lineHeight: "16px" })}>⤢</div>
      <div style={abs(1872, 4, 17, 18, { background: "#161616", border: "1px solid #2d3a48", color: "#ddd", font: "11px 'DejaVu Sans'", textAlign: "center", lineHeight: "16px" })}>✎</div>
      <TopButton left={1891} width={34} label="Wk" bg="linear-gradient(#b8c8d8,#7a8a9a)" color="#101820" bold />
      <TopButton left={1927} width={49} label="Style" />
      <TopButton left={1977} width={73} label="Drawings" />
      <TopButton left={2052} width={62} label="Studies" />
      <div style={abs(2118, 6, 68, 18, { color: "#b8c4d0", font: "14px 'DejaVu Sans'", lineHeight: "18px", whiteSpace: "nowrap" })}>16000.45</div>
      <div style={abs(2189, 4, 38, 10, { color: "#b8c4d0", font: "9.5px 'DejaVu Sans'", lineHeight: "10px", whiteSpace: "nowrap" })}>+38.75</div>
      <div style={abs(2189, 15, 38, 10, { color: "#b8c4d0", font: "9.5px 'DejaVu Sans'", lineHeight: "10px", whiteSpace: "nowrap" })}>+0.24%</div>

      {/* outer edges */}
      <div style={abs(2, 0, 2, 1238, { background: "#0a68d8" })} />
      <div style={abs(2203, 26, 25, 1218, { background: "#333", borderLeft: "1px solid #444" })} />
      <div style={abs(2223, 0, 3, 1238, { background: "#0a68d8" })} />

      {/* panels */}
      <Strip top={26} height={20} cells={mainCells} />
      <PlotBox top={45} height={897} />
      <Separator top={944} />
      <Strip top={949} height={20} cells={volumeCells} right="<billions>" />
      <PlotBox top={968} height={61} />
      <Separator top={1031} />
      <Strip top={1037} height={19} cells={mddCells} />
      <PlotBox top={1055} height={61} />
      <Separator top={1118} />
      <Strip top={1123} height={20} cells={rsiCells} />
      <PlotBox top={1142} height={61} />

      <canvas ref={mainRef} width={2197} height={896} style={{ position: "absolute", left: 5, top: 45 }} />
      <canvas ref={volRef} width={2197} height={60} style={{ position: "absolute", left: 5, top: 968 }} />
      <canvas ref={mddRef} width={2197} height={60} style={{ position: "absolute", left: 5, top: 1055 }} />
      <canvas ref={rsiRef} width={2197} height={76} style={{ position: "absolute", left: 5, top: 1142 }} />

      {/* overlays */}
      <div style={abs(10, 51, 240, 12, { color: "#777", font: `10.6px ${UI_FONT}`, lineHeight: "12px", whiteSpace: "nowrap" })}>2013 © TD Ameritrade IP Company, Inc.</div>
      <div style={abs(1442, 142, 77, 14, { background: "#c4c4c4", color: "#222", borderRadius: 4, border: "1px solid #999", font: "10.5px 'DejaVu Sans'", lineHeight: "12px", textAlign: "center" })}>Hi: 16030.28</div>
      <div style={abs(26, 832, 72, 15, { background: "#c4c4c4", color: "#222", borderRadius: 4, border: "1px solid #999", font: "10.5px 'DejaVu Sans'", lineHeight: "13px", textAlign: "center" })}>Lo: 3552.47</div>

      <svg style={abs(2146, 27, 19, 18, { background: "#0a0a14", outline: "1px solid #2c3a48" })} viewBox="0 0 19 18">
        <path d="M3 13 H7 C10 13 9 5 12 5 H16" fill="none" stroke="#8cc8ff" strokeWidth="1.4" />
        <path d="M3 15 H16" stroke="#ddd" strokeWidth="1" />
      </svg>
      <Tag left={2145} top={157} width={56} bg="#3838f8">16000.45</Tag>
      <Tag left={2145} top={202} width={56} bg="#0f9a3c">15154.27</Tag>
      <Tag left={2145} top={242} width={52} bg="#8c8c8c">14397.8</Tag>
      <Tag left={2146} top={1099} width={52} bg="#ff0000">1.05438</Tag>
      <Tag left={2146} top={1155} width={52} bg="#8c8c8c">67.7302</Tag>

      {/* right tabs */}
      <SideTab top={28} height={44} label="Trade" />
      <SideTab top={88} height={99} label="Times And Sales" />
      <SideTab top={197} height={80} label="Active Trader" />
      <SideTab top={283} height={74} label="Big Buttons" />
      <SideTab top={365} height={40} label="Chart" color="#f0b400" />
      <SideTab top={422} height={68} label="Dashboard" />
      <SideTab top={498} height={49} label="Level II" />
      <SideTab top={555} height={63} label="Live News" />

      {/* bottom toolbar */}
      <div style={abs(4, 1216, 2199, 20, { background: "linear-gradient(#000,#2a2a2a)" })} />
      <IconBox left={4} glyph={<g stroke="#cfe" fill="none"><circle cx="9" cy="9" r="6" /><path d="M9 2V16M2 9H16" /></g>} />
      <IconBox left={23} glyph={<g stroke="#cfe" fill="none"><circle cx="10" cy="8" r="5" /><path d="M7 8H13M10 5V11M6 12L2 16" /></g>} />
      <IconBox left={42} glyph={<g stroke="#999" fill="none"><circle cx="10" cy="8" r="5" /><path d="M7 8H13M6 12L2 16" /></g>} />
      <IconBox left={61} glyph={<path d="M3 16L15 3" stroke="#e8e8c8" strokeWidth="1.4" />} />
      <IconBox left={80} width={15} glyph={<path d="M10 5L6 9L10 13Z" fill="#999" />} />
      <IconBox left={2167} width={17} glyph={<path d="M7 5L11 9L7 13Z" fill="#999" />} />
      <IconBox left={2185} width={17} glyph={<path d="M8 4L3 9L8 14ZM10 4L15 9L10 14Z" fill="#ddd" />} />
      <div style={abs(0, 1236, 2228, 2, { background: "#0a68d8" })} />
      <div style={abs(0, 1238, 2228, 6, { background: "#333" })} />
    </div>
  );
}
